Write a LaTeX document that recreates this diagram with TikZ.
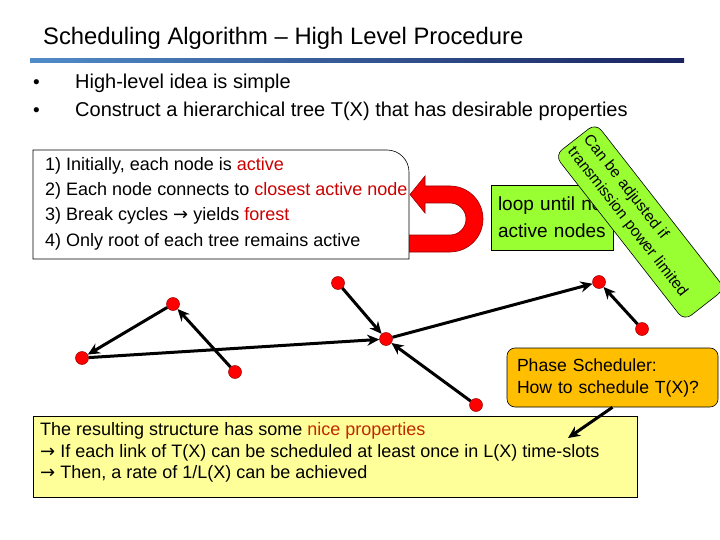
\documentclass[tikz,border=0pt]{standalone}
\usepackage{fontspec}
\setmainfont{Liberation Sans}
\newfontfamily\arrowfont{DejaVu Sans}
\usetikzlibrary{positioning,arrows.meta}
\definecolor{hotred}{RGB}{204,0,0}
\definecolor{brickred}{RGB}{192,40,0}
\definecolor{limegreen}{RGB}{153,255,51}
\definecolor{phaseorange}{RGB}{255,190,0}
\definecolor{noteyellow}{RGB}{255,255,153}
\definecolor{barlight}{RGB}{80,140,200}
\definecolor{bardark}{RGB}{25,35,95}
\newcommand{\hot}[1]{\textcolor{hotred}{#1}}
\newcommand{\fs}[2]{\fontsize{#1}{#2}\selectfont}
\newcommand{\ar}{{\arrowfont →}}

\begin{document}
\begin{tikzpicture}
    [x=1pt,y=-1pt,
     txt/.style={anchor=base west,align=left,inner sep=0},
     box/.style={draw=black,line width=0.6pt},
     lime/.style={box,fill=limegreen},
     dot/.style={circle,fill=red,draw=red!60!black,line width=0.5pt,
                 inner sep=0,minimum size=13pt},
     link/.style={-{Stealth[length=12pt,width=11pt]},line width=3pt}]
    \useasboundingbox (0,0) rectangle (720,540);

    % heading (multi-line texts sit on the baseline of their last line)
    \node[txt,font=\fs{23.8}{28}] (title) at (43,44.5)
        {Scheduling Algorithm – High Level Procedure};
    \shade[left color=barlight,right color=bardark] (30,59) rectangle (684,63);
    \node[txt,font=\fs{19}{28}] (bul) at (33,117) {•\\•};
    \node[txt,font=\fs{20}{28}] (idea) at (75,117)
        {High-level idea is simple\\
         Construct a hierarchical tree T(X) that has desirable properties};

    % loop arrow
    \filldraw[fill=red,draw=red!60!black,line width=0.6pt]
        (409,235) -- (450,235) arc[start angle=90,end angle=-90,radius=16]
        -- (425,203) -- (425,213) -- (410,194.5) -- (425,176) -- (425,186)
        -- (450,186) arc[start angle=-90,end angle=90,radius=33]
        -- (409,252) -- cycle;

    % steps box
    \draw[box,fill=white] (33,259) -- (33,150) -- (387,150)
        arc[start angle=-90,end angle=0,radius=22] -- (409,259) -- cycle;
    \node[txt,font=\fs{18}{25.5}] (steps) at (45,246.5)
        {1) Initially, each node is \hot{active}\\
         2) Each node connects to \hot{closest active node}\\
         3) Break cycles \ar{} yields \hot{forest}\\
         4) Only root of each tree remains active};

    \node[lime,align=left,minimum width=122pt,minimum height=65pt,
          text width=108pt,inner xsep=7pt,font=\fs{19}{27}] (loop)
        at (552,217.5) {loop until no\\active nodes};
    \node[lime,rounded corners=9pt,rotate=-52,align=left,
          minimum width=210pt,minimum height=52pt,text width=200pt,
          inner xsep=5pt,font=\fs{15.5}{20}] (power)
        at (640,222) {Can be adjusted if\\transmission power limited};

    % the tree
    \node[dot] (lt) at (173,304) {};
    \node[dot] (lb) at (82,358) {};
    \node[dot] (lr) at (235,372) {};
    \node[dot] (ct) at (338,283) {};
    \node[dot] (hub) at (386,339) {};
    \node[dot] (cb) at (476,405) {};
    \node[dot] (rt) at (599,282) {};
    \node[dot] (rb) at (642,329) {};
    \draw[link] (lt) -- (lb);
    \draw[link] (lr) -- (lt);
    \draw[link] (lb) -- (hub);
    \draw[link] (ct) -- (hub);
    \draw[link] (cb) -- (hub);
    \draw[link] (hub) -- (rt);
    \draw[link] (rb) -- (rt);

    % scheduler and result
    \node[box,fill=phaseorange,rounded corners=8pt,align=left,
          minimum height=59pt,text width=191pt,inner xsep=10pt,
          font=\fs{17.6}{22}] (phase) at (612.5,377.5)
        {Phase Scheduler:\\How to schedule T(X)?};
    \node[box,fill=noteyellow,anchor=north west,minimum width=604pt,
          minimum height=81pt] (note) at (33,416) {};
    \node[txt,font=\fs{18}{21.5}] (props) at (40,478.5)
        {The resulting structure has some \textcolor{brickred}{nice properties}\\
         \ar{} If each link of T(X) can be scheduled at least once in L(X) time-slots\\
         \ar{} Then, a rate of 1/L(X) can be achieved};
    \coordinate (pick) at (568,438);
    \draw[link] (phase.south) -- (pick);
\end{tikzpicture}
\end{document}
